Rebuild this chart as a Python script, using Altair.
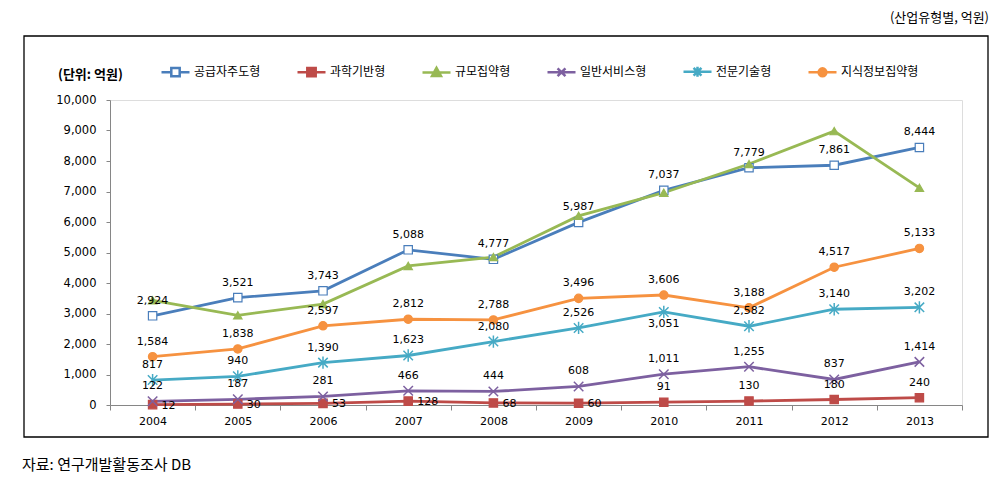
import altair as alt
import pandas as pd

years = ["2004", "2005", "2006", "2007", "2008", "2009", "2010", "2011", "2012", "2013"]
series = ["공급자주도형", "과학기반형", "규모집약형", "일반서비스형", "전문기술형", "지식정보집약형"]
supplier = [2924, 3521, 3743, 5088, 4777, 5987, 7037, 7779, 7861, 8444]
science = [12, 30, 53, 128, 68, 60, 91, 130, 180, 240]
scale_int = [3430, 2940, 3310, 4560, 4850, 6200, 6960, 7900, 8980, 7120]
general = [122, 187, 281, 466, 444, 608, 1011, 1255, 837, 1414]
special = [817, 940, 1390, 1623, 2080, 2526, 3051, 2582, 3140, 3202]
knowledge = [1584, 1838, 2597, 2812, 2788, 3496, 3606, 3188, 4517, 5133]
labelled = [True, True, False, True, True, True]

colors = ["#4A7EBB", "#BE4B48", "#98B954", "#7D60A0", "#46AAC5", "#F69240"]
fills = ["white", "#BE4B48", "#98B954", "transparent", "transparent", "#F69240"]
point_shapes = ["square", "square", "triangle-up",
                "M-1,-1L1,1M-1,1L1,-1",
                "M-1,-1L1,1M-1,1L1,-1M0,-1.3L0,1.3",
                "circle"]
legend_shapes = [
    "M-1,0L-0.3,0M0.3,0L1,0M-0.3,-0.3L0.3,-0.3L0.3,0.3L-0.3,0.3Z",
    "M-1,0L1,0M-0.3,-0.3L0.3,-0.3L0.3,0.3L-0.3,0.3Z",
    "M-1,0L1,0M0,-0.32L0.32,0.26L-0.32,0.26Z",
    "M-1,0L1,0M-0.28,-0.28L0.28,0.28M-0.28,0.28L0.28,-0.28",
    "M-1,0L1,0M-0.28,-0.28L0.28,0.28M-0.28,0.28L0.28,-0.28M0,-0.36L0,0.36",
    "M-1,0L1,0M0.28,0A0.28,0.28 0 1,1 -0.28,0A0.28,0.28 0 1,1 0.28,0Z",
]

values = [supplier, science, scale_int, general, special, knowledge]
rows = []
for s, vals, lab in zip(series, values, labelled):
    for y, v in zip(years, vals):
        rows.append({"year": y, "series": s, "value": v, "lab": lab})
df = pd.DataFrame(rows)

FONT = "DejaVu Sans"
KFONT = "Noto Sans CJK KR"

x_enc = alt.X("year:N", scale=alt.Scale(domain=years, paddingInner=0, paddingOuter=0),
              axis=alt.Axis(title=None, labelAngle=0, tickBand="extent", tickSize=5,
                            labelPadding=5, labelFont=FONT, labelFontSize=11,
                            labelColor="#000", domainColor="#868686", tickColor="#868686"))
y_enc = alt.Y("value:Q", scale=alt.Scale(domain=[0, 10000], nice=False),
              axis=alt.Axis(title=None, values=list(range(0, 10001, 1000)), format=",d",
                            grid=False, tickSize=4, labelPadding=10, labelFont=FONT,
                            labelFontSize=11.5, labelColor="#000",
                            domainColor="#868686", tickColor="#868686"))

base = alt.Chart(df)

line_layers = []
point_layers = []
for s, c, f, sh in zip(series, colors, fills, point_shapes):
    sub = base.transform_filter(alt.datum.series == s)
    line_layers.append(sub.mark_line(strokeWidth=2.8, color=c).encode(x=x_enc, y=y_enc))
    custom = sh not in ("square", "circle", "triangle-up")
    point_layers.append(
        sub.mark_point(
            shape=sh, filled=not custom, fill=f, stroke=c, opacity=1,
            size=90 if custom else 70, strokeWidth=1.5 if custom else 1.2,
        ).encode(x=x_enc, y=y_enc)
    )

def make_legend():
    return alt.Legend(title=None, orient="none", legendX=50, legendY=-44,
                      direction="horizontal", symbolSize=784,
                      symbolStrokeWidth=2.5, labelFont=KFONT,
                      labelFontSize=12, labelColor="#000",
                      labelOffset=3, columnPadding=31, padding=0)

legend_layer = base.transform_filter("false").mark_point(opacity=1).encode(
    x=x_enc, y=y_enc,
    shape=alt.Shape("series:N", scale=alt.Scale(domain=series, range=legend_shapes),
                    legend=make_legend()),
    stroke=alt.Stroke("series:N", scale=alt.Scale(domain=series, range=colors),
                      legend=make_legend()),
    fill=alt.Fill("series:N", scale=alt.Scale(domain=series, range=fills),
                  legend=make_legend()),
)

lab_base = base.transform_filter(alt.datum.lab)
txt_kw = dict(font=FONT, fontSize=11, color="#000")
above = lab_base.transform_filter(
    "!((datum.series == '과학기반형' && datum.year <= '2009') || (datum.series == '전문기술형' && datum.year == '2010'))"
).mark_text(dy=-15, **txt_kw).encode(x=x_enc, y=y_enc, text=alt.Text("value:Q", format=","))
right = lab_base.transform_filter(
    "datum.series == '과학기반형' && datum.year <= '2009'"
).mark_text(dx=9, dy=1, align="left", **txt_kw).encode(x=x_enc, y=y_enc, text=alt.Text("value:Q", format=","))
below = lab_base.transform_filter(
    "datum.series == '전문기술형' && datum.year == '2010'"
).mark_text(dy=12, **txt_kw).encode(x=x_enc, y=y_enc, text=alt.Text("value:Q", format=","))

border = alt.Chart(pd.DataFrame({"t": [""]})).mark_rect(
    fill="transparent", stroke="#000", strokeWidth=1.3
).encode(x=alt.value(-86), x2=alt.value(878), y=alt.value(-64), y2=alt.value(337))
top_note = alt.Chart(pd.DataFrame({"t": ["(산업유형별, 억원)"]})).mark_text(
    font=KFONT, fontSize=13, align="right", color="#000").encode(
    text="t:N", x=alt.value(879), y=alt.value(-82))
unit = alt.Chart(pd.DataFrame({"t": ["(단위: 억원)"]})).mark_text(
    font=KFONT, fontSize=13, fontWeight="bold", align="left", color="#000").encode(
    text="t:N", x=alt.value(-52), y=alt.value(-25))
source = alt.Chart(pd.DataFrame({"t": ["자료: 연구개발활동조사 DB"]})).mark_text(
    font=KFONT, fontSize=15, align="left", color="#000").encode(
    text="t:N", x=alt.value(-88), y=alt.value(365))

chart = alt.layer(
    border, *line_layers, legend_layer, *point_layers, above, right, below, top_note, unit, source
).properties(
    width=852, height=305,
    padding={"left": 102, "top": 92, "right": 36, "bottom": 75},
    autosize="none",
).configure_view(stroke=None).configure(background="white")

chart.save("out.html", embed_options={"renderer": "svg", "actions": False})
